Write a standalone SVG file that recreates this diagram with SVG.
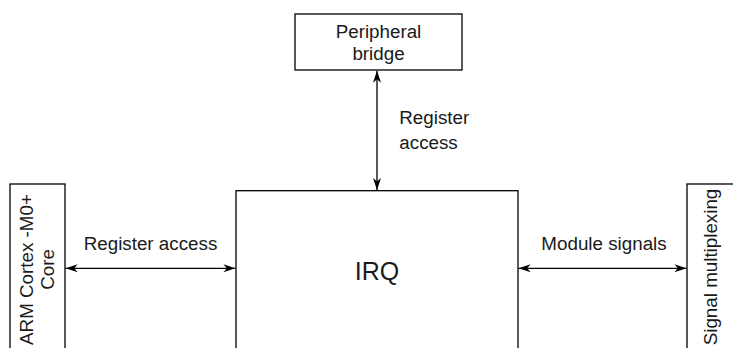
<svg xmlns="http://www.w3.org/2000/svg" width="733" height="348" viewBox="0 0 733 348">
<style>
.box{fill:#fff;stroke:#000;stroke-width:1.3}
.t{font-family:"Liberation Sans",Arial,Helvetica,sans-serif;font-size:18.8px;fill:#1a1a1a}
.c{text-anchor:middle}
.conn{stroke:#000;stroke-width:1.3;fill:none;marker-start:url(#ah);marker-end:url(#ah)}
</style>
<defs>
<marker id="ah" markerUnits="userSpaceOnUse" markerWidth="13" markerHeight="9" refX="12" refY="4" orient="auto-start-reverse" viewBox="0 0 13 8">
<path d="M0,0 L12,4 L0,8 L3.5,4 z" fill="#000"/>
</marker>
</defs>
<rect width="733" height="348" fill="#fff"/>
<g id="bridge">
<rect class="box" x="295" y="14" width="167" height="56"/>
<text class="t c" x="378.5" y="37.5">Peripheral</text>
<text class="t c" x="378.5" y="60">bridge</text>
</g>
<g id="irq">
<rect class="box" x="236" y="190.7" width="282" height="170"/>
<text class="t c" x="377" y="280" style="font-size:25px">IRQ</text>
</g>
<g id="core">
<rect class="box" x="10" y="184" width="55" height="180"/>
<text class="t c" transform="translate(33.3,269.5) rotate(-90)">ARM Cortex -M0+</text>
<text class="t c" transform="translate(54.3,269.5) rotate(-90)">Core</text>
</g>
<g id="mux">
<rect class="box" x="687" y="184" width="60" height="180"/>
<text class="t c" transform="translate(717,267) rotate(-90)">Signal multiplexing</text>
</g>
<g id="connectors">
<line class="conn" x1="377" y1="70.7" x2="377" y2="190"/>
<line class="conn" x1="65.7" y1="268.3" x2="235.4" y2="268.3"/>
<line class="conn" x1="518.6" y1="268.3" x2="686.4" y2="268.3"/>
<text class="t" x="399.3" y="124.3">Register</text>
<text class="t" x="399.3" y="149">access</text>
<text class="t c" x="150.5" y="250">Register access</text>
<text class="t c" x="604" y="250">Module signals</text>
</g>
</svg>
